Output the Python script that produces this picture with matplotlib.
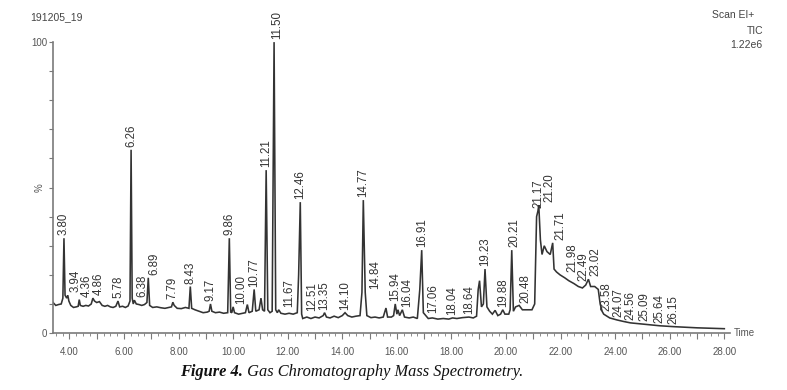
import matplotlib
matplotlib.use("Agg")
import matplotlib.pyplot as plt
from matplotlib.ticker import MultipleLocator, FuncFormatter

# TIC trace: retention time (min) and relative abundance (%)
trace_t = [3.40, 3.50, 3.60, 3.70, 3.76, 3.80, 3.84, 3.90, 3.94, 3.98, 4.05, 4.15, 4.25, 4.32, 4.36, 4.40,
           4.50, 4.60, 4.70, 4.80, 4.86, 4.92, 5.00, 5.10, 5.20, 5.30, 5.40, 5.50, 5.60, 5.70, 5.78, 5.84,
           5.95, 6.05, 6.15, 6.22, 6.26, 6.30, 6.34, 6.38, 6.45, 6.55, 6.65, 6.75, 6.84, 6.89, 6.94, 7.05,
           7.20, 7.35, 7.50, 7.65, 7.74, 7.79, 7.84, 7.95, 8.10, 8.25, 8.38, 8.43, 8.48, 8.60, 8.75, 8.90,
           9.05, 9.12, 9.17, 9.22, 9.35, 9.50, 9.65, 9.80, 9.86, 9.91, 9.95, 10.00, 10.05, 10.20, 10.35,
           10.45, 10.52, 10.58, 10.70, 10.77, 10.83, 10.95, 11.02, 11.08, 11.15, 11.21, 11.27, 11.35, 11.43,
           11.50, 11.56, 11.62, 11.67, 11.75, 11.90, 12.05, 12.20, 12.35, 12.40, 12.46, 12.51, 12.55, 12.70,
           12.85, 13.00, 13.15, 13.30, 13.35, 13.42, 13.55, 13.70, 13.85, 14.00, 14.10, 14.20, 14.35, 14.50,
           14.65, 14.72, 14.77, 14.84, 14.90, 15.05, 15.20, 15.35, 15.50, 15.60, 15.66, 15.80, 15.88, 15.94,
           16.00, 16.04, 16.10, 16.20, 16.28, 16.45, 16.60, 16.75, 16.84, 16.91, 16.97, 17.06, 17.15, 17.30,
           17.50, 17.70, 17.90, 18.04, 18.20, 18.40, 18.64, 18.80, 18.92, 18.98, 19.03, 19.10, 19.17, 19.23,
           19.30, 19.40, 19.50, 19.60, 19.70, 19.80, 19.88, 19.96, 20.10, 20.15, 20.21, 20.27, 20.35, 20.48,
           20.60, 20.80, 20.95, 21.05, 21.12, 21.17, 21.20, 21.26, 21.32, 21.40, 21.50, 21.62, 21.71, 21.76,
           21.85, 21.98, 22.15, 22.30, 22.49, 22.65, 22.80, 22.92, 23.02, 23.10, 23.25, 23.38, 23.45, 23.52,
           23.58, 23.80, 24.07, 24.30, 24.56, 25.09, 25.64, 26.15, 27.00, 28.00]
trace_y = [10.5, 9.5, 9.8, 10.0, 12.0, 32.6, 13.0, 12.0, 13.0, 11.0, 9.5, 8.8, 9.0, 9.2, 11.5, 9.5,
           9.2, 9.5, 9.3, 10.0, 12.0, 11.0, 10.5, 10.8, 9.5, 9.2, 9.5, 9.0, 8.8, 9.2, 11.0, 9.0,
           9.2, 8.8, 9.3, 11.0, 63.0, 12.0, 10.0, 11.3, 10.0, 9.8, 9.5, 9.8, 10.5, 19.0, 9.5, 8.8,
           9.0, 8.7, 8.5, 8.8, 9.0, 10.6, 9.5, 8.5, 8.4, 8.8, 8.5, 16.0, 8.5, 8.0, 7.5, 7.0,
           7.2, 7.5, 10.0, 7.5, 7.0, 7.2, 6.8, 7.0, 32.6, 7.2, 7.0, 9.0, 7.0, 6.5, 6.8,
           7.0, 9.8, 7.0, 7.5, 15.0, 7.5, 8.0, 12.0, 8.0, 7.5, 56.0, 8.0, 7.0, 7.5,
           100.0, 8.0, 7.0, 8.0, 6.8, 6.5, 6.8, 6.5, 7.0, 20.0, 45.0, 6.5, 5.0, 5.5,
           5.0, 5.5, 5.2, 6.0, 7.0, 5.5, 5.2, 5.8, 5.3, 6.0, 7.0, 6.0, 5.5, 5.8,
           6.0, 14.0, 45.7, 14.0, 6.0, 5.3, 5.5, 5.2, 5.5, 8.6, 5.5, 5.5, 6.0, 10.0,
           6.5, 8.0, 6.0, 8.0, 5.5, 5.2, 5.5, 5.0, 15.0, 28.5, 7.0, 6.0, 5.0, 5.2,
           4.8, 5.0, 4.8, 5.2, 5.0, 5.3, 5.5, 5.2, 5.8, 15.0, 18.0, 9.0, 10.0, 22.0,
           9.0, 7.5, 6.5, 7.8, 6.0, 6.5, 8.0, 6.5, 6.5, 8.0, 28.5, 7.5, 9.0, 9.5,
           8.0, 8.0, 8.0, 10.0, 40.0, 42.0, 44.0, 32.0, 27.0, 30.0, 28.0, 27.0, 31.0, 22.0,
           21.0, 20.0, 19.0, 18.0, 17.0, 16.0, 15.5, 16.5, 18.5, 16.0, 16.0, 15.0, 10.0, 7.5,
           6.5, 5.2, 4.5, 4.0, 3.5, 3.0, 2.5, 2.2, 1.8, 1.5]

# retention times printed above the peaks
peak_labels = ["3.80", "3.94", "4.36", "4.86", "5.78", "6.26", "6.38", "6.89", "7.79", "8.43", "9.17",
               "9.86", "10.00", "10.77", "11.21", "11.50", "11.67", "12.46", "12.51", "13.35", "14.10",
               "14.77", "14.84", "15.94", "16.04", "16.91", "17.06", "18.04", "18.64", "19.23", "19.88",
               "20.21", "20.48", "21.17", "21.20", "21.71", "21.98", "22.49", "23.02", "23.58", "24.07",
               "24.56", "25.09", "25.64", "26.15"]

x_ticks_labelled = [4, 6, 8, 10, 12, 14, 16, 18, 20, 22, 24, 26, 28]

gray = "#7a7a7a"
ink = "#333333"

plt.rcParams['font.family'] = ['Liberation Sans', 'DejaVu Sans']

fig = plt.figure(figsize=(7.87, 3.90), dpi=100)
ax = fig.add_axes([0.0673, 0.146, 0.860, 0.746])

ax.plot(trace_t, trace_y, color=ink, lw=1.15, solid_joinstyle='miter')

ax.set_xlim(3.397, 28.2)
ax.set_ylim(0, 100)

for s in ['top', 'right']:
    ax.spines[s].set_visible(False)
for s in ['left', 'bottom']:
    ax.spines[s].set_color(gray)
    ax.spines[s].set_linewidth(1.2)

ax.xaxis.set_major_locator(MultipleLocator(1))
ax.xaxis.set_minor_locator(MultipleLocator(0.25))
ax.xaxis.set_major_formatter(FuncFormatter(
    lambda v, p: f"{v:.2f}" if round(v) in x_ticks_labelled else ""))
ax.tick_params(axis='x', which='major', length=4, width=0.8, color=gray,
               labelsize=7, labelcolor="#555555", pad=6)
ax.tick_params(axis='x', which='minor', length=2, width=0.6, color=gray)

ax.set_yticks(range(0, 101, 10))
ax.set_yticklabels(["0" if v == 0 else "100" if v == 100 else "" for v in range(0, 101, 10)])
ax.tick_params(axis='y', length=3, width=0.8, color=gray, labelsize=7,
               labelcolor="#555555", pad=1)
ax.text(-0.012, 0.5, "%", transform=ax.transAxes, rotation=90, ha='right', va='center',
        fontsize=7, color="#555555")
ax.text(1.006, 0.0, "Time", transform=ax.transAxes, ha='left', va='center',
        fontsize=7, color="#555555")

# peak labels, nudged right where they would collide
lookup = dict(zip(trace_t, trace_y))
gap = 0.42
prev_x = -1e9
for lab in peak_labels:
    t = float(lab)
    lx = max(t, prev_x + gap)
    prev_x = lx
    ax.text(lx, lookup[t] + 1.0, lab, rotation=90, ha='center', va='bottom',
            fontsize=8.3, color=ink, clip_on=False)

fig.text(30 / 787, 1 - 17 / 390, "191205_19", fontsize=7.5, color="#444444", va='center')
fig.text(712 / 787, 1 - 15 / 390, "Scan EI+", fontsize=7.5, color="#444444", va='center')
fig.text(747 / 787, 1 - 31 / 390, "TIC", fontsize=7.5, color="#444444", va='center')
fig.text(730 / 787, 1 - 45 / 390, "1.22e6", fontsize=7.5, color="#444444", va='center')

cap1 = fig.text(180 / 787, 1 - 372 / 390, "Figure 4.", fontsize=11.8, family='Liberation Serif',
                style='italic', weight='bold', va='center', color="#111111")
ax.annotate(" Gas Chromatography Mass Spectrometry.", xy=(1, 0.5), xycoords=cap1,
            va='center', ha='left', fontsize=11.8, family='Liberation Serif', style='italic',
            color="#111111", annotation_clip=False)

fig.savefig("out.png", dpi=100)
